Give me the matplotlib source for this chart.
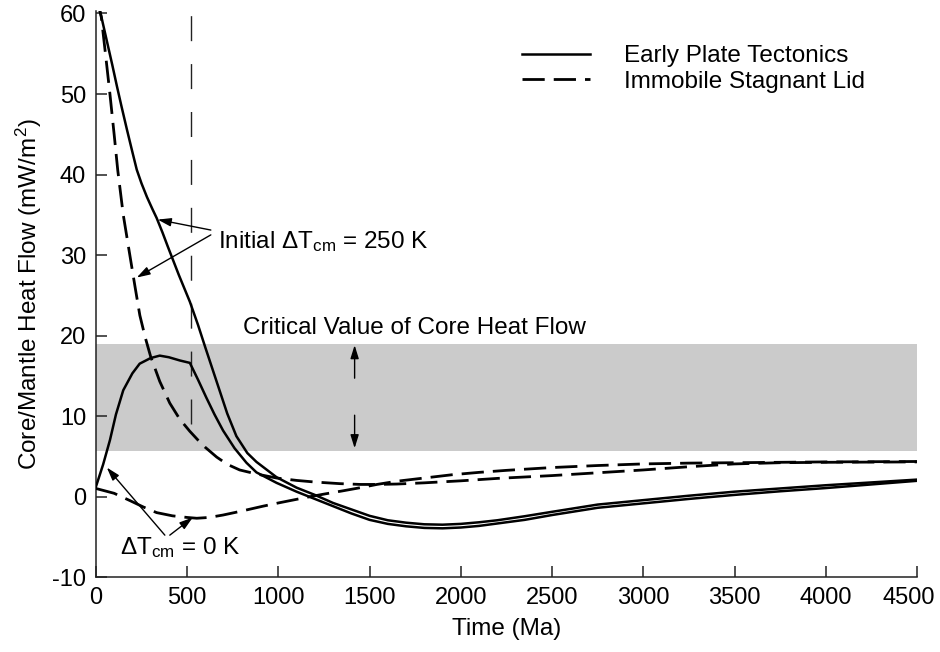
import matplotlib
matplotlib.use("Agg")
import matplotlib.pyplot as plt
import matplotlib.transforms as mtransforms
from matplotlib.lines import Line2D

plt.rcParams['font.family'] = ['Liberation Sans', 'DejaVu Sans']
plt.rcParams['mathtext.fontset'] = 'custom'
plt.rcParams['mathtext.rm'] = 'Liberation Sans'
plt.rcParams['mathtext.it'] = 'Liberation Sans:italic'
plt.rcParams['mathtext.bf'] = 'Liberation Sans:bold'
plt.rcParams['lines.scale_dashes'] = False
plt.rcParams['axes.unicode_minus'] = False

# ---- data (Time in Ma, heat flow in mW/m^2) ----
t_ept250 = [0, 30, 60, 90, 115, 140, 170, 200, 224, 250, 280, 310, 333, 365, 395, 455, 515,
            560, 600, 660, 720, 770, 830, 880, 990, 1100, 1200, 1300, 1400, 1500, 1600, 1700,
            1800, 1900, 2000, 2100, 2200, 2350, 2500, 2750, 3000, 3250, 3500, 3750, 4000,
            4250, 4500]
q_ept250 = [62.5, 59.6, 56.6, 53.6, 51.0, 48.5, 45.6, 42.8, 40.6, 38.9, 37.2, 35.7, 34.6, 32.8,
            31.0, 27.5, 24.2, 21.3, 18.5, 14.4, 10.3, 7.5, 5.4, 4.3, 2.4, 1.1, 0.2, -0.8, -1.6,
            -2.4, -2.95, -3.25, -3.45, -3.5, -3.4, -3.2, -2.95, -2.45, -1.9, -1.0, -0.45, 0.1,
            0.6, 1.0, 1.4, 1.75, 2.1]

t_ept0 = [0, 40, 77, 110, 150, 200, 240, 300, 350, 400, 460, 515, 560, 605, 650, 697, 760,
          825, 880, 990, 1100, 1200, 1300, 1400, 1500, 1600, 1700, 1800, 1900, 2000, 2100,
          2200, 2350, 2500, 2750, 3000, 3250, 3500, 3750, 4000, 4250, 4500]
q_ept0 = [1.2, 4.0, 7.0, 10.2, 13.2, 15.3, 16.5, 17.2, 17.5, 17.3, 16.9, 16.6, 14.5, 12.3, 10.2,
          8.2, 6.0, 4.2, 3.0, 1.7, 0.6, -0.3, -1.2, -2.1, -2.9, -3.4, -3.7, -3.9, -3.95, -3.85,
          -3.65, -3.35, -2.9, -2.3, -1.4, -0.85, -0.3, 0.2, 0.65, 1.05, 1.5, 1.95]

t_sl250 = [0, 30, 55, 77, 100, 120, 150, 186, 215, 241, 270, 300, 350, 405, 460, 515, 560, 600,
           662, 720, 788, 880, 990, 1100, 1200, 1336, 1450, 1540, 1650, 1800, 2000, 2200, 2500,
           2750, 3000, 3250, 3500, 3750, 4000, 4500]
q_sl250 = [62.5, 59.5, 54.5, 50, 45, 40.5, 35, 30, 26, 22.5, 19.8, 17.4, 14.3, 11.6, 9.6, 8.1,
           7.0, 6.1, 4.9, 4.0, 3.3, 2.8, 2.3, 2.0, 1.8, 1.6, 1.5, 1.5, 1.55, 1.7, 1.95, 2.25, 2.6,
           2.95, 3.3, 3.7, 4.05, 4.2, 4.25, 4.3]

t_sl0 = [0, 100, 186, 260, 333, 420, 500, 553, 620, 697, 800, 916, 1000, 1155, 1250, 1352,
         1450, 1540, 1650, 1800, 1950, 2100, 2250, 2500, 2750, 3000, 3250, 3500, 4000, 4500]
q_sl0 = [1.0, 0.4, -0.5, -1.3, -2.0, -2.4, -2.6, -2.7, -2.6, -2.3, -1.8, -1.2, -0.8, -0.1, 0.3,
         0.7, 1.1, 1.5, 1.9, 2.3, 2.7, 3.0, 3.25, 3.6, 3.85, 4.05, 4.15, 4.2, 4.3, 4.35]

critical_band = (5.7, 19.0)
marker_time = 520
marker_range = (9.0, 60.0)

xticks = [0, 500, 1000, 1500, 2000, 2500, 3000, 3500, 4000, 4500]
yticks = [-10, 0, 10, 20, 30, 40, 50, 60]

FS = 17.5
TFS = 17
DASH = (0, (16, 6.5))

fig = plt.figure(figsize=(9.4, 6.52), dpi=100)
ax = fig.add_axes([0.102, 0.115, 0.8735, 0.868])

ax.axhspan(critical_band[0], critical_band[1], color='#cbcbcb', lw=0, zorder=0)
ax.plot([marker_time, marker_time], marker_range, color='#222222', lw=1.0,
        linestyle=(0, (18, 16.5)), zorder=1)

lw_s = 1.8
lw_d = 2.0
ax.plot(t_ept250, q_ept250, color='black', lw=lw_s, zorder=3)
ax.plot(t_ept0, q_ept0, color='black', lw=lw_s, zorder=3)
ax.plot(t_sl250, q_sl250, color='black', lw=lw_d, linestyle=DASH, zorder=3)
ax.plot(t_sl0, q_sl0, color='black', lw=lw_d, linestyle=DASH, zorder=3)

ax.set_xlim(0, 4500)
ax.set_ylim(-10, 60.3)
ax.set_xticks(xticks)
ax.set_yticks(yticks)
for s in ['top', 'right']:
    ax.spines[s].set_visible(False)
for s in ['left', 'bottom']:
    ax.spines[s].set_linewidth(1.1)
    ax.spines[s].set_color('#222222')
ax.tick_params(axis='both', direction='in', length=8, width=1.1, labelsize=TFS, pad=7,
               color='#222222')
ax.set_xlabel('Time (Ma)', fontsize=FS, labelpad=7)
ax.set_ylabel('Core/Mantle Heat Flow (mW/m$^2$)', fontsize=FS, labelpad=6)

# nudge the last x tick label left so it stays inside the figure
last = ax.get_xticklabels()[-1]
last.set_transform(last.get_transform() +
                   mtransforms.ScaledTranslation(-8 / 100, 0, fig.dpi_scale_trans))

arrow_kw = dict(arrowstyle='-|>,head_length=0.8,head_width=0.25', color='black', lw=1.0,
                shrinkA=0, shrinkB=0)

# Initial dT = 250 K annotation
ax.text(668, 31.7, 'Initial ΔT$_{\\mathrm{cm}}$ = 250 K', fontsize=FS, ha='left', va='center')
ax.annotate('', xy=(339, 34.4), xytext=(630, 33.1), arrowprops=arrow_kw)
ax.annotate('', xy=(224, 27.2), xytext=(630, 32.5), arrowprops=arrow_kw)

# dT = 0 K annotation
ax.text(131, -6.3, 'ΔT$_{\\mathrm{cm}}$ = 0 K', fontsize=FS, ha='left', va='center')
ax.annotate('', xy=(60, 3.6), xytext=(378, -4.8), arrowprops=arrow_kw)
ax.annotate('', xy=(531, -2.6), xytext=(405, -4.8), arrowprops=arrow_kw)

# Critical value
ax.text(805, 20.9, 'Critical Value of Core Heat Flow', fontsize=FS, ha='left', va='center')
ax.annotate('', xy=(1418, 18.8), xytext=(1418, 14.7), arrowprops=arrow_kw)
ax.annotate('', xy=(1418, 6.0), xytext=(1418, 10.1), arrowprops=arrow_kw)

handles = [Line2D([], [], color='black', lw=lw_s),
           Line2D([], [], color='black', lw=lw_d, linestyle=DASH)]
labels = ['Early Plate Tectonics', 'Immobile Stagnant Lid']
leg = ax.legend(handles, labels, loc='upper left', bbox_to_anchor=(0.519, 0.94),
                frameon=False, fontsize=FS, handlelength=2.8, handletextpad=1.4,
                labelspacing=0.15, borderpad=0, borderaxespad=0)

fig.savefig('out.png', dpi=100)
